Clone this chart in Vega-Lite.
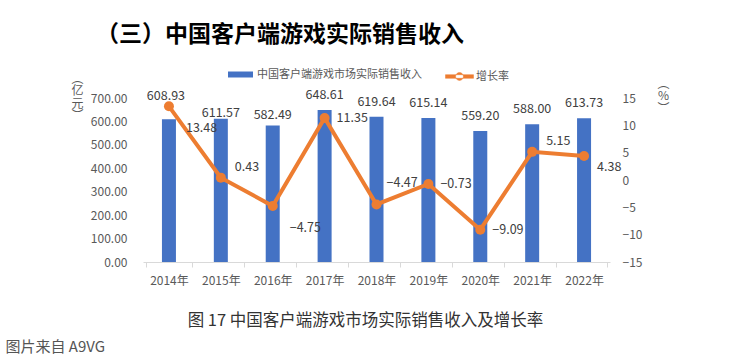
{
  "$schema": "https://vega.github.io/schema/vega-lite/v6.json",
  "width": 467,
  "height": 164,
  "autosize": "none",
  "padding": {"left": 143, "top": 98, "right": 128, "bottom": 97},
  "background": "white",
  "config": {
    "view": {"stroke": null},
    "font": "Noto Sans CJK SC",
    "axis": {"labelFont": "Noto Sans CJK SC", "titleFont": "Noto Sans CJK SC", "grid": false, "labelOverlap": false},
    "legend": {"labelFont": "Noto Sans CJK SC", "labelFontSize": 11, "labelColor": "#595959", "labelLimit": 400}
  },
  "title": {
    "text": "（三）中国客户端游戏实际销售收入",
    "anchor": "start",
    "frame": "group",
    "dx": -47,
    "offset": 15,
    "fontSize": 23,
    "fontWeight": "bold",
    "color": "#000000",
    "font": "Noto Sans CJK SC"
  },
  "data": {
    "values": [
      {"year": "2014年", "revenue": 608.93, "growth": 13.48},
      {"year": "2015年", "revenue": 611.57, "growth": 0.43},
      {"year": "2016年", "revenue": 582.49, "growth": -4.75},
      {"year": "2017年", "revenue": 648.61, "growth": 11.35},
      {"year": "2018年", "revenue": 619.64, "growth": -4.47},
      {"year": "2019年", "revenue": 615.14, "growth": -0.73},
      {"year": "2020年", "revenue": 559.20, "growth": -9.09},
      {"year": "2021年", "revenue": 588.00, "growth": 5.15},
      {"year": "2022年", "revenue": 613.73, "growth": 4.38}
    ]
  },
  "layer": [
    {
      "layer": [
        {
          "mark": {"type": "bar", "width": 14},
          "encoding": {
            "x": {
              "field": "year", "type": "nominal", "sort": null,
              "axis": {
                "orient": "bottom",
                "labelAngle": 0, "labelFontSize": 12, "labelColor": "#595959", "labelPadding": 8,
                "domainColor": "#D9D9D9", "tickColor": "#D9D9D9", "tickSize": 5, "tickBand": "extent",
                "title": "图 17 中国客户端游戏市场实际销售收入及增长率",
                "titleX": 222, "titleY": 58, "titleAlign": "center", "titleBaseline": "middle",
                "titleFontSize": 16.5, "titleFontWeight": "normal", "titleColor": "#333333"
              }
            },
            "y": {
              "field": "revenue", "type": "quantitative",
              "scale": {"domain": [0, 700], "nice": false},
              "axis": {
                "orient": "left", "values": [0, 100, 200, 300, 400, 500, 600, 700], "tickCount": 10, "format": ".2f",
                "labelOverlap": false, "labelBound": false, "labelFlush": false,
                "domain": false, "ticks": false, "labelPadding": 16, "labelFontSize": 12, "labelColor": "#595959",
                "title": ["︵", "亿", "元", "︶"], "titleAngle": 0, "titleX": -66, "titleY": -25,
                "titleAlign": "center", "titleBaseline": "top", "titleFontSize": 12, "titleLineHeight": 12.5,
                "titleFontWeight": "normal", "titleColor": "#595959"
              }
            },
            "fill": {
              "datum": "中国客户端游戏市场实际销售收入",
              "scale": {"range": ["#4472C4"]},
              "legend": {
                "orient": "none", "legendX": 85, "legendY": -36, "title": null,
                "symbolType": "M-1,-0.24H1V0.24H-1Z", "symbolSize": 625, "symbolStrokeWidth": 0,
                "labelOffset": 4
              }
            }
          }
        },
        {
          "transform": [{"filter": "datum.year != '2014年' && datum.year != '2015年' && datum.year != '2016年'"}],
          "mark": {"type": "text", "dy": -15, "fontSize": 12.5, "color": "#404040", "baseline": "middle"},
          "encoding": {
            "x": {"field": "year", "type": "nominal", "sort": null},
            "y": {"field": "revenue", "type": "quantitative"},
            "text": {"field": "revenue", "type": "quantitative", "format": ".2f"}
          }
        },
        {
          "transform": [{"filter": "datum.year == '2014年'"}],
          "mark": {"type": "text", "dy": -23, "dx": -3, "fontSize": 12.5, "color": "#404040", "baseline": "middle"},
          "encoding": {
            "x": {"field": "year", "type": "nominal", "sort": null},
            "y": {"field": "revenue", "type": "quantitative"},
            "text": {"field": "revenue", "type": "quantitative", "format": ".2f"}
          }
        },
        {
          "transform": [{"filter": "datum.year == '2015年'"}],
          "mark": {"type": "text", "dy": -6, "fontSize": 12.5, "color": "#404040", "baseline": "middle"},
          "encoding": {
            "x": {"field": "year", "type": "nominal", "sort": null},
            "y": {"field": "revenue", "type": "quantitative"},
            "text": {"field": "revenue", "type": "quantitative", "format": ".2f"}
          }
        },
        {
          "transform": [{"filter": "datum.year == '2016年'"}],
          "mark": {"type": "text", "dy": -11, "fontSize": 12.5, "color": "#404040", "baseline": "middle"},
          "encoding": {
            "x": {"field": "year", "type": "nominal", "sort": null},
            "y": {"field": "revenue", "type": "quantitative"},
            "text": {"field": "revenue", "type": "quantitative", "format": ".2f"}
          }
        }
      ]
    },
    {
      "layer": [
        {
          "mark": {"type": "line", "strokeWidth": 4},
          "encoding": {
            "x": {
              "field": "year", "type": "nominal", "sort": null,
              "axis": {
                "orient": "bottom",
                "labels": false, "ticks": false, "domain": false,
                "title": "图片来自 A9VG", "titleX": -138, "titleY": 84, "titleAlign": "left", "titleBaseline": "middle",
                "titleFontSize": 15, "titleFontWeight": "normal", "titleColor": "#555555"
              }
            },
            "y": {
              "field": "growth", "type": "quantitative",
              "scale": {"domain": [-15, 15], "nice": false},
              "axis": {
                "orient": "right", "values": [-15, -10, -5, 0, 5, 10, 15], "tickCount": 10,
                "labelOverlap": false, "labelBound": false, "labelFlush": false,
                "domain": false, "ticks": false, "labelPadding": 12, "labelFontSize": 12, "labelColor": "#595959",
                "title": ["︵", "%", "︶"], "titleAngle": 0, "titleX": 53, "titleY": -20,
                "titleAlign": "center", "titleBaseline": "top", "titleFontSize": 12, "titleLineHeight": 12.5,
                "titleFontWeight": "normal", "titleColor": "#595959"
              }
            },
            "stroke": {
              "datum": "增长率",
              "scale": {"range": ["#ED7D31"]},
              "legend": {
                "orient": "none", "legendX": 302, "legendY": -36, "title": null,
                "symbolType": "M-1,-0.13H1V0.13H-1Z M-0.28,0A0.28,0.28 0 1,0 0.28,0A0.28,0.28 0 1,0 -0.28,0Z",
                "symbolSize": 784, "symbolStrokeWidth": 0.5, "symbolFillColor": "#ED7D31",
                "labelOffset": 2
              }
            }
          }
        },
        {
          "mark": {"type": "point", "filled": true, "size": 100, "color": "#ED7D31", "opacity": 1},
          "encoding": {
            "x": {"field": "year", "type": "nominal", "sort": null},
            "y": {"field": "growth", "type": "quantitative"}
          }
        },
        {
          "transform": [{"filter": "datum.year == '2017年' || datum.year == '2019年' || datum.year == '2020年'"}],
          "mark": {"type": "text", "dx": 12, "dy": 0, "align": "left", "baseline": "middle", "fontSize": 12.5, "color": "#404040"},
          "encoding": {
            "x": {"field": "year", "type": "nominal", "sort": null},
            "y": {"field": "growth", "type": "quantitative"},
            "text": {"field": "growth", "type": "quantitative", "format": ".2f"}
          }
        },
        {
          "transform": [{"filter": "datum.year == '2015年' || datum.year == '2021年'"}],
          "mark": {"type": "text", "dx": 14, "dy": -11, "align": "left", "baseline": "middle", "fontSize": 12.5, "color": "#404040"},
          "encoding": {
            "x": {"field": "year", "type": "nominal", "sort": null},
            "y": {"field": "growth", "type": "quantitative"},
            "text": {"field": "growth", "type": "quantitative", "format": ".2f"}
          }
        },
        {
          "transform": [{"filter": "datum.year == '2022年'"}],
          "mark": {"type": "text", "dx": 13, "dy": 11, "align": "left", "baseline": "middle", "fontSize": 12.5, "color": "#404040"},
          "encoding": {
            "x": {"field": "year", "type": "nominal", "sort": null},
            "y": {"field": "growth", "type": "quantitative"},
            "text": {"field": "growth", "type": "quantitative", "format": ".2f"}
          }
        },
        {
          "transform": [{"filter": "datum.year == '2014年' || datum.year == '2016年'"}],
          "mark": {"type": "text", "dx": 17, "dy": 22, "align": "left", "baseline": "middle", "fontSize": 12.5, "color": "#404040"},
          "encoding": {
            "x": {"field": "year", "type": "nominal", "sort": null},
            "y": {"field": "growth", "type": "quantitative"},
            "text": {"field": "growth", "type": "quantitative", "format": ".2f"}
          }
        },
        {
          "transform": [{"filter": "datum.year == '2018年'"}],
          "mark": {"type": "text", "dx": 10, "dy": -21, "align": "left", "baseline": "middle", "fontSize": 12.5, "color": "#404040"},
          "encoding": {
            "x": {"field": "year", "type": "nominal", "sort": null},
            "y": {"field": "growth", "type": "quantitative"},
            "text": {"field": "growth", "type": "quantitative", "format": ".2f"}
          }
        }
      ]
    }
  ],
  "resolve": {"scale": {"y": "independent"}, "axis": {"x": "independent"}}
}
